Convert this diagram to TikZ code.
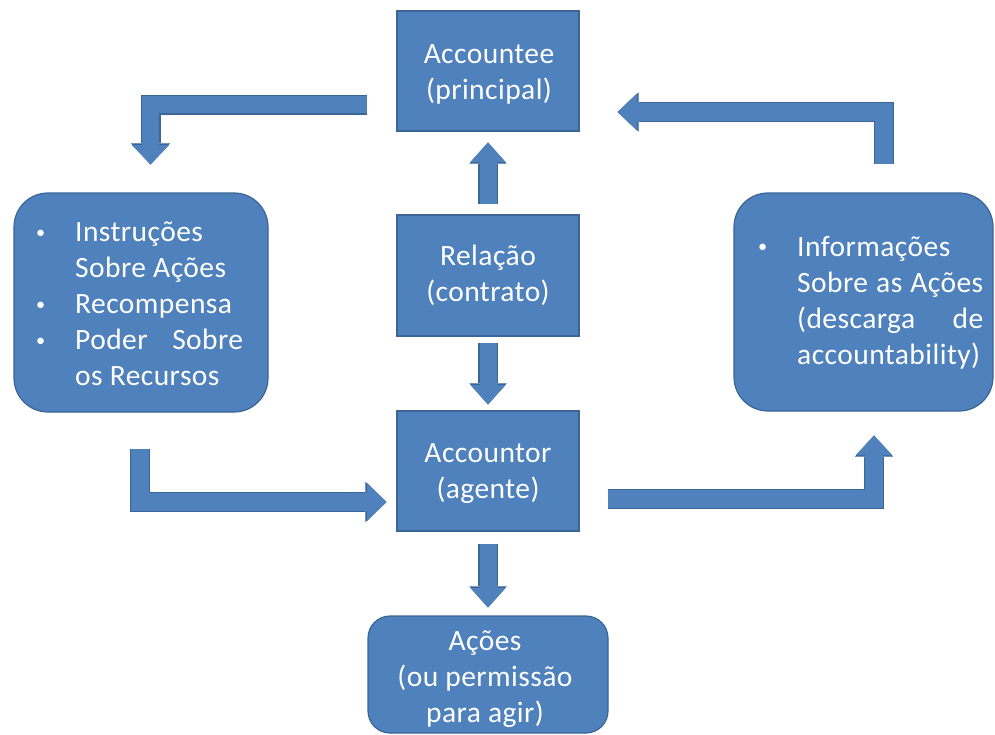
\documentclass[tikz,border=0pt]{standalone}
\usepackage{fontspec}
\setmainfont{Carlito}[LetterSpace=1.5]
\usetikzlibrary{arrows.meta,calc}

\definecolor{boxfill}{HTML}{4F81BD}
\definecolor{boxedge}{HTML}{3A6595}

% stacked lines with a fixed baseline distance; the block's baseline is its first line
\newcommand\blines[1]{\vtop{\baselineskip=36pt\lineskiplimit=-100pt\lineskip=0pt #1}}
\newcommand\ctrline[1]{\hbox to 0pt{\hss#1\hss}}
\newcommand\txtline[1]{\hbox{#1}}
% small hanging bullet
\newcommand\bul{\llap{\raisebox{3.5pt}{\scalebox{0.62}{\textbullet}}\hspace{30pt}}}

\tikzset{
  box/.style={fill=boxfill, draw=boxedge, line width=1.2pt, inner sep=0pt},
  rbox/.style={box, rounded corners=#1},
  boxtext/.style={text=white, font=\fontsize{29.5}{36}\selectfont, inner sep=0pt},
  arrout/.style={line width=20pt, draw=boxedge, line join=miter,
    -{Triangle[width=#1+2pt, length=21pt, line width=0.01pt]}},
  arrin/.style={line width=17.6pt, draw=boxfill, line join=miter,
    -{Triangle[width=#1, length=19.4pt, line width=0.01pt]}},
}

\begin{document}
\begin{tikzpicture}[x=1pt, y=-1pt]
\useasboundingbox (0,0) rectangle (995,734);

% boxes
\node[box, minimum width=182, minimum height=120] (acc) at (488,71) {};
\node[box, minimum width=182, minimum height=121] (rel) at (488,275.5) {};
\node[box, minimum width=182, minimum height=120] (agt) at (488,471) {};
\node[rbox=22, minimum width=240, minimum height=117] (aco) at (488,674.5) {};
\node[rbox=34, minimum width=254, minimum height=219] (lb) at (141,302.5) {};
\node[rbox=34, minimum width=259, minimum height=218] (rb) at (863.5,302) {};

% texts
\node[boxtext, anchor=base] (acct) at (489,63.5)
  {\blines{\ctrline{Accountee}\ctrline{(principal)}}};
\node[boxtext, anchor=base] (relt) at (488,265.5)
  {\blines{\ctrline{Relação}\ctrline{(contrato)}}};
\node[boxtext, anchor=base] (agtt) at (488,462.5)
  {\blines{\ctrline{Accountor}\ctrline{(agente)}}};
\node[boxtext, anchor=base] (acot) at (485,650)
  {\blines{\ctrline{Ações}\ctrline{(ou permissão}\ctrline{para agir)}}};
\node[boxtext, anchor=base west] (lbt) at (75,241.5)
  {\blines{%
    \txtline{\bul Instruções}%
    \txtline{Sobre Ações}%
    \txtline{\bul Recompensa}%
    \txtline{\bul\hbox to 168pt{Poder\hfill Sobre}}%
    \txtline{os Recursos}}};
\node[boxtext, anchor=base west] (rbt) at (797,256)
  {\blines{%
    \txtline{\bul Informações}%
    \hbox to 186pt{Sobre\hfill as\hfill Ações}%
    \hbox to 186pt{(descarga\hfill de}%
    \txtline{accountability)}}};

% straight block arrows
\foreach \a/\b in {
  {($(rel.north)+(0,-10)$)}/{($(acc.south)+(0,11)$)},
  {($(rel.south)+(0,6)$)}/{($(agt.north)+(0,-6)$)},
  {($(agt.south)+(0,12)$)}/{($(aco.north)+(0,-8)$)}}
{
  \draw[arrout=35pt, line width=19.5pt] \a -- \b;
  \draw[arrin=35pt, line width=17pt] \a -- \b;
}

% bent block arrows
\draw[arrout=37pt] ($(acc.west)+(-29,33.5)$) -| ($(lb.north)+(9.5,-28)$);
\draw[arrin=37pt]  ($(acc.west)+(-29,33.5)$) -| ($(lb.north)+(9.5,-28)$);

\draw[arrout=37pt] ($(rb.north)+(20.5,-28)$) |- ($(acc.east)+(38,41)$);
\draw[arrin=37pt]  ($(rb.north)+(20.5,-28)$) |- ($(acc.east)+(38,41)$);

\draw[arrout=38pt] ($(lb.south)+(-1,36)$) |- ($(agt.west)+(-10,31)$);
\draw[arrin=38pt]  ($(lb.south)+(-1,36)$) |- ($(agt.west)+(-10,31)$);

\draw[arrout=36pt] ($(agt.east)+(28,28)$) -| ($(rb.south)+(10.5,24)$);
\draw[arrin=36pt]  ($(agt.east)+(28,28)$) -| ($(rb.south)+(10.5,24)$);
\end{tikzpicture}
\end{document}
